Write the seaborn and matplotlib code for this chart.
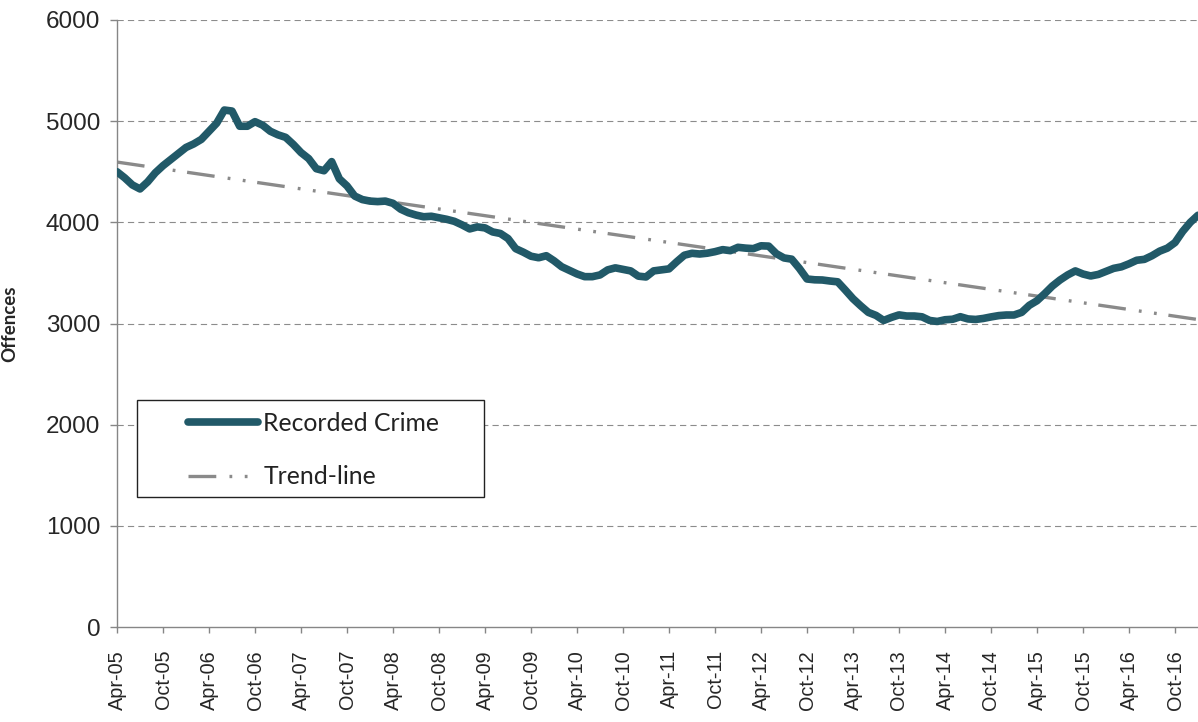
import numpy as np
import pandas as pd
import matplotlib
matplotlib.use("Agg")
import matplotlib.pyplot as plt
from matplotlib.patches import Rectangle
import seaborn as sns

# ---- data (monthly, Apr-05 .. Jan-17) ----
crime = [
    4500, 4440, 4370, 4330, 4400, 4490, 4560, 4620, 4680, 4740,
    4775, 4820, 4900, 4980, 5110, 5100, 4950, 4950, 4995, 4960,
    4900, 4865, 4840, 4770, 4690, 4630, 4530, 4510, 4600, 4430,
    4360, 4260, 4225, 4210, 4205, 4210, 4188, 4130, 4095, 4072,
    4055, 4060, 4045, 4030, 4010, 3975, 3935, 3955, 3945, 3905,
    3890, 3840, 3740, 3705, 3665, 3650, 3670, 3620, 3561, 3525,
    3490, 3463, 3463, 3480, 3530, 3550, 3535, 3520, 3468, 3460,
    3520, 3530, 3540, 3610, 3675, 3694, 3687, 3695, 3710, 3730,
    3720, 3753, 3745, 3740, 3768, 3765, 3690, 3648, 3636, 3545,
    3440, 3432, 3430, 3420, 3412, 3330, 3245, 3175, 3110, 3080,
    3030, 3060, 3085, 3074, 3074, 3066, 3030, 3020, 3037, 3042,
    3067, 3045, 3040, 3050, 3065, 3078, 3084, 3084, 3110, 3180,
    3225, 3295, 3370, 3430, 3480, 3520, 3489, 3470, 3485, 3515,
    3545, 3560, 3590, 3625, 3634, 3670, 3715, 3745, 3800, 3910,
    4000, 4070,
]
tick_labels = [
    "Apr-05", "Oct-05", "Apr-06", "Oct-06", "Apr-07", "Oct-07",
    "Apr-08", "Oct-08", "Apr-09", "Oct-09", "Apr-10", "Oct-10",
    "Apr-11", "Oct-11", "Apr-12", "Oct-12", "Apr-13", "Oct-13",
    "Apr-14", "Oct-14", "Apr-15", "Oct-15", "Apr-16", "Oct-16",
]
y_ticks = [0, 1000, 2000, 3000, 4000, 5000, 6000]
series_names = ["Recorded Crime", "Trend-line"]

months = np.arange(len(crime))
coef = np.polyfit(months, crime, 1)          # linear trend (as Excel trendline)
trend = np.polyval(coef, months)
df = pd.DataFrame({"month": months, "crime": crime, "trend": trend})

# ---- style ----
sns.set_style("white")
plt.rcParams["font.family"] = ["Liberation Sans", "DejaVu Sans"]
plt.rcParams["lines.scale_dashes"] = False

W, H, DPI = 1198, 722, 100
fig = plt.figure(figsize=(W / DPI, H / DPI), dpi=DPI)
ax_left, ax_right = 117, 1198
ax_top, ax_bottom = 20, 627
ax = fig.add_axes([ax_left / W, 1 - ax_bottom / H,
                   (ax_right - ax_left) / W, (ax_bottom - ax_top) / H])

teal = "#215968"
grey = "#868686"

sns.lineplot(data=df, x="month", y="crime", ax=ax, color=teal,
             linewidth=5.5, label=series_names[0], zorder=3)
sns.lineplot(data=df, x="month", y="trend", ax=ax, color="#8a8a8a",
             linewidth=2.4, label=series_names[1], zorder=2)
main_line, trend_line = ax.lines[0], ax.lines[1]
main_line.set_solid_capstyle("round")
main_line.set_solid_joinstyle("round")
trend_line.set_dashes((20.0, 9.5, 2.0, 9.0, 2.0, 8.5))
trend_line.set_dash_capstyle("butt")

ax.set_xlim(0, len(crime) - 1)
ax.set_ylim(0, 6000)
ax.set_xticks(np.arange(0, len(crime), 6)[:len(tick_labels)])
ax.set_xticklabels(tick_labels, rotation=90, fontsize=14.3)
ax.set_yticks(y_ticks)
ax.set_yticklabels([str(v) for v in y_ticks], fontsize=17.5)
ax.tick_params(axis="x", length=4.5, width=1, color=grey, pad=12, direction="out")
ax.tick_params(axis="y", length=5, width=1, color=grey, pad=7, direction="out")
ax.tick_params(bottom=True, left=True)

ax.set_xlabel("")
ax.set_ylabel("Offences", fontsize=13.5, fontweight="bold",
              family=["Lato", "DejaVu Sans"])
ax.yaxis.set_label_coords((18 - ax_left) / (ax_right - ax_left), 0.5)

for v in y_ticks[1:]:
    ax.axhline(v, color="#8c8c8c", linewidth=0.8, dashes=(4.5, 3.0), zorder=1)

for s in ["top", "right"]:
    ax.spines[s].set_visible(False)
for s in ["left", "bottom"]:
    ax.spines[s].set_color(grey)
    ax.spines[s].set_linewidth(1.0)

# legend (frame drawn separately to match padding)
aw, ah = ax_right - ax_left, ax_bottom - ax_top
handles, labels = ax.get_legend_handles_labels()
leg = ax.legend(handles, labels, loc="upper left",
                bbox_to_anchor=((188 - ax_left) / aw, (ax_bottom - 412) / ah),
                borderaxespad=0, borderpad=0, frameon=False,
                handlelength=2.85, handletextpad=0.2, labelspacing=1.22,
                prop={"family": ["Lato", "DejaVu Sans"], "size": 17.8})
for txt in leg.get_texts():
    txt.set_color("#222222")
box = Rectangle(((137 - ax_left) / aw, (ax_bottom - 497) / ah),
                (484 - 137) / aw, (497 - 400) / ah,
                transform=ax.transAxes, fill=True, facecolor="white",
                edgecolor="#222222", linewidth=1.0, zorder=4)
ax.add_patch(box)
leg.set_zorder(5)

fig.savefig("out.png", dpi=DPI)
